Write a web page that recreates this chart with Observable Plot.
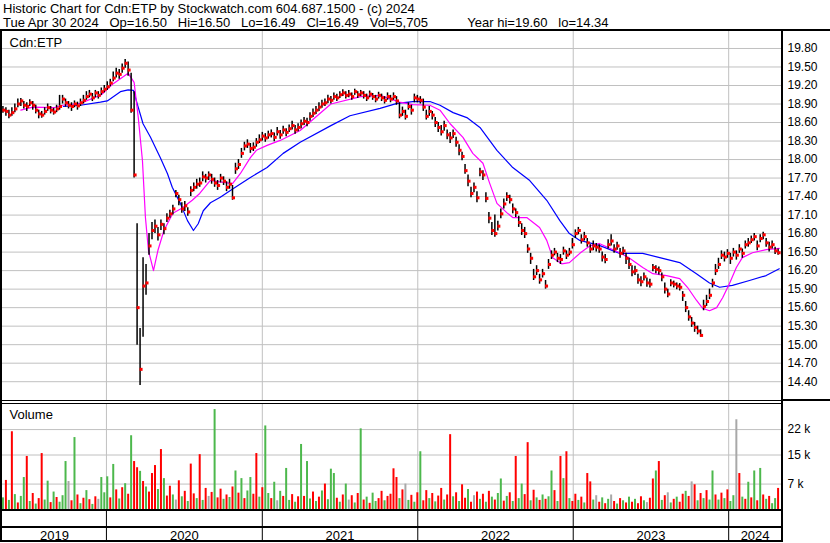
<!DOCTYPE html>
<html><head><meta charset="utf-8">
<script src="https://cdn.jsdelivr.net/npm/d3@7"></script>
<script src="https://cdn.jsdelivr.net/npm/@observablehq/plot@0.6"></script>
<style>
html,body{margin:0;padding:0;background:#fff;}
#wrap{position:relative;width:830px;height:543px;overflow:hidden;font-family:"Liberation Sans",Arial,sans-serif;color:#000;background:#fff;}
.ln{position:absolute;background:#000;}
#hdr{position:absolute;left:3px;top:0;font-size:13px;line-height:14px;padding-top:2px;white-space:pre;}
.slot{position:absolute;left:0;}
.slot svg{display:block;}
</style></head><body><div id="wrap">
<div id="hdr">Historic Chart for Cdn:ETP by Stockwatch.com 604.687.1500 - (c) 2024
Tue Apr 30 2024   Op=16.50   Hi=16.50   Lo=16.49   Cl=16.49   Vol=5,705           Year hi=19.60   lo=14.34</div>
</div>
<script>
// ---------- data (weekly samples) ----------
const firstWeek = "2019-05-03";
const close = [
18.80,18.78,18.72,18.76,18.82,18.90,18.95,18.88,18.86,18.92,
18.88,18.80,18.74,18.72,18.78,18.84,18.80,18.77,18.82,18.86,
18.98,18.92,18.88,18.86,18.90,18.87,18.92,18.96,19.02,19.06,
19.00,19.08,19.04,19.10,19.14,19.18,19.24,19.32,19.40,19.38,
19.48,19.56,19.45,18.80,17.75,15.60,14.60,15.95,16.00,16.60,
16.85,16.92,16.78,16.95,16.88,17.05,17.12,17.20,17.45,17.35,
17.20,17.25,17.15,17.50,17.55,17.60,17.62,17.72,17.70,17.75,
17.68,17.62,17.58,17.70,17.65,17.55,17.60,17.38,17.85,17.92,
18.10,18.22,18.25,18.18,18.20,18.28,18.32,18.38,18.35,18.40,
18.42,18.36,18.45,18.40,18.48,18.44,18.50,18.55,18.48,18.52,
18.58,18.62,18.60,18.70,18.75,18.80,18.85,18.90,18.92,18.98,
18.96,19.02,19.00,19.05,19.08,19.04,19.06,19.02,19.10,19.05,
19.08,19.04,19.00,19.06,19.02,18.98,19.04,19.00,18.96,19.02,
18.98,19.02,18.95,18.72,18.78,18.70,18.86,18.80,19.00,18.98,
18.96,18.85,18.70,18.78,18.72,18.60,18.52,18.45,18.55,18.40,
18.35,18.42,18.28,18.15,18.05,17.82,17.65,17.45,17.55,17.38,
17.80,17.75,17.37,17.05,16.85,16.80,16.92,17.12,17.28,17.40,
17.35,17.20,17.14,16.98,16.85,16.80,16.55,16.40,16.10,16.20,
16.05,16.15,15.95,16.30,16.45,16.50,16.40,16.38,16.52,16.45,
16.50,16.62,16.80,16.85,16.70,16.75,16.65,16.55,16.60,16.58,
16.55,16.42,16.38,16.62,16.68,16.55,16.60,16.48,16.52,16.40,
16.30,16.18,16.20,16.05,16.02,16.10,16.00,15.98,16.25,16.22,
16.20,16.10,15.90,15.82,16.00,15.98,15.95,15.93,15.80,15.60,
15.45,15.35,15.28,15.22,15.15,15.62,15.70,15.80,16.00,16.20,
16.30,16.45,16.42,16.48,16.40,16.50,16.45,16.55,16.48,16.62,
16.65,16.70,16.75,16.60,16.72,16.78,16.65,16.58,16.62,16.52,16.49];
const high = [
18.86,18.84,18.80,18.84,18.90,18.98,18.99,18.94,18.92,18.97,
18.94,18.88,18.80,18.78,18.84,18.90,18.86,18.83,18.88,19.04,
19.04,18.98,18.94,18.92,18.95,18.93,18.98,19.04,19.10,19.12,
19.07,19.12,19.10,19.16,19.20,19.26,19.30,19.42,19.48,19.46,
19.55,19.62,19.58,19.40,19.10,16.96,15.26,16.41,16.30,16.80,
16.98,17.02,16.90,17.02,16.96,17.12,17.18,17.26,17.50,17.42,
17.30,17.32,17.22,17.56,17.62,17.68,17.70,17.80,17.76,17.80,
17.76,17.70,17.66,17.76,17.72,17.64,17.68,17.58,17.94,18.00,
18.18,18.28,18.32,18.26,18.27,18.34,18.40,18.44,18.42,18.46,
18.48,18.43,18.52,18.47,18.54,18.50,18.56,18.62,18.55,18.58,
18.64,18.68,18.67,18.76,18.82,18.86,18.92,18.96,18.98,19.04,
19.02,19.08,19.06,19.10,19.13,19.10,19.12,19.08,19.14,19.10,
19.12,19.10,19.06,19.11,19.07,19.04,19.09,19.06,19.02,19.08,
19.04,19.08,19.02,18.92,18.85,18.80,18.92,18.88,19.06,19.04,
19.02,18.98,18.80,18.86,18.78,18.68,18.60,18.55,18.62,18.48,
18.44,18.48,18.36,18.24,18.12,17.92,17.75,17.55,17.62,17.48,
17.86,17.82,17.46,17.14,16.98,17.10,17.00,17.20,17.36,17.46,
17.42,17.28,17.20,17.08,16.96,16.90,16.62,16.48,16.22,16.28,
16.14,16.22,16.04,16.38,16.52,16.56,16.48,16.46,16.58,16.52,
16.56,16.72,16.86,16.90,16.78,16.82,16.72,16.62,16.68,16.64,
16.62,16.50,16.46,16.70,16.78,16.62,16.66,16.56,16.58,16.48,
16.40,16.28,16.27,16.14,16.10,16.16,16.08,16.06,16.30,16.28,
16.26,16.16,16.00,15.90,16.05,16.03,16.00,15.99,15.86,15.70,
15.55,15.44,15.36,15.30,15.24,15.72,15.80,15.90,16.06,16.30,
16.40,16.52,16.50,16.54,16.48,16.56,16.52,16.62,16.55,16.68,
16.72,16.76,16.80,16.68,16.78,16.82,16.72,16.66,16.68,16.58,16.55];
const low = [
18.75,18.70,18.66,18.70,18.76,18.84,18.86,18.82,18.78,18.86,
18.80,18.74,18.66,18.67,18.72,18.78,18.74,18.72,18.76,18.80,
18.90,18.85,18.82,18.78,18.84,18.80,18.86,18.90,18.96,19.00,
18.94,19.00,18.98,19.04,19.08,19.12,19.18,19.26,19.32,19.30,
19.40,19.48,19.35,18.75,17.70,14.99,14.34,15.12,15.80,16.45,
16.70,16.80,16.68,16.85,16.78,16.98,17.05,17.10,17.38,17.25,
17.13,17.16,17.08,17.40,17.48,17.52,17.55,17.64,17.62,17.66,
17.60,17.55,17.50,17.62,17.58,17.48,17.52,17.34,17.76,17.84,
18.02,18.14,18.18,18.10,18.13,18.20,18.26,18.30,18.28,18.33,
18.35,18.29,18.38,18.33,18.41,18.37,18.44,18.48,18.41,18.45,
18.50,18.55,18.53,18.62,18.68,18.73,18.78,18.83,18.86,18.91,
18.90,18.96,18.94,18.99,19.02,18.98,19.00,18.96,19.04,18.99,
19.02,18.98,18.94,19.00,18.96,18.92,18.98,18.94,18.90,18.96,
18.92,18.96,18.88,18.66,18.70,18.64,18.80,18.72,18.92,18.92,
18.90,18.78,18.64,18.70,18.64,18.52,18.44,18.38,18.46,18.32,
18.26,18.34,18.20,18.06,17.98,17.76,17.56,17.38,17.46,17.30,
17.72,17.66,17.30,16.96,16.77,16.74,16.84,17.04,17.20,17.32,
17.28,17.12,17.06,16.90,16.77,16.72,16.48,16.30,16.04,16.12,
15.98,16.08,15.90,16.22,16.38,16.44,16.33,16.30,16.45,16.38,
16.44,16.55,16.72,16.78,16.63,16.68,16.58,16.48,16.52,16.50,
16.48,16.34,16.31,16.55,16.60,16.48,16.53,16.40,16.45,16.30,
16.22,16.10,16.12,15.98,15.94,16.03,15.93,15.92,16.18,16.15,
16.13,16.02,15.82,15.76,15.94,15.92,15.89,15.87,15.70,15.52,
15.38,15.28,15.20,15.16,15.12,15.55,15.62,15.73,15.92,16.12,
16.22,16.38,16.34,16.40,16.30,16.42,16.37,16.48,16.40,16.55,
16.58,16.64,16.68,16.52,16.65,16.70,16.58,16.50,16.55,16.46,16.45];
// volume in thousands, with day direction: g = up, r = down, n = unchanged
const volume = [
3.2,8.0,2.5,21.4,4.1,1.8,3.6,8.8,14.6,2.2,
4.4,1.5,3.0,15.4,2.6,7.8,1.9,4.8,3.3,2.0,
3.8,13.2,7.7,2.4,19.8,4.0,1.6,3.1,5.2,2.7,
1.4,3.5,2.8,8.8,4.6,9.0,3.2,12.4,5.4,2.9,
6.0,7.1,4.2,20.3,13.2,11.5,10.5,7.7,6.2,4.8,
9.9,12.1,5.5,16.5,8.5,3.7,6.4,4.0,2.6,7.9,
3.5,5.0,2.2,12.5,4.3,3.0,15.1,2.5,5.8,3.6,
4.7,27.5,3.2,5.6,2.8,4.0,3.3,6.2,10.6,4.5,
8.5,3.0,5.1,8.8,4.2,15.4,3.4,6.0,23.0,4.4,
3.0,7.5,2.4,5.0,3.6,11.3,2.5,4.1,2.0,3.5,
17.9,3.6,13.2,2.9,4.8,2.2,3.4,5.1,7.0,2.7,
11.1,9.9,3.1,2.0,4.0,7.0,2.6,3.8,1.8,4.4,
22.2,2.6,3.4,1.7,4.5,2.2,3.0,5.0,2.4,3.6,
4.2,11.2,8.8,3.0,5.4,7.0,2.5,3.9,2.0,4.6,
15.9,2.4,5.2,3.0,4.4,2.1,3.7,5.8,2.6,4.0,
20.6,3.5,4.6,2.2,6.8,3.1,5.5,2.0,3.8,4.8,
2.8,4.2,2.0,5.0,3.4,2.6,4.4,8.4,2.3,3.6,
4.6,2.2,14.6,3.0,7.0,4.1,18.4,2.4,5.3,3.2,
2.5,4.0,2.8,3.5,10.6,5.2,2.2,14.6,8.5,15.9,
3.0,2.2,4.2,2.5,3.4,1.8,9.9,7.6,2.6,3.8,
2.0,3.2,1.6,2.8,4.0,2.2,1.5,3.0,2.4,1.8,
3.4,2.0,2.8,1.6,3.5,2.4,1.9,3.1,8.4,10.6,
13.2,2.5,3.8,4.6,1.8,2.8,3.4,2.0,4.2,5.0,
3.6,7.6,6.8,2.4,4.4,3.0,5.2,2.6,10.6,4.0,
2.6,4.5,3.0,5.4,2.2,3.8,24.7,9.9,3.4,2.8,
7.5,3.2,10.6,2.4,11.3,4.0,2.8,3.6,1.6,3.0,5.8];
const volumeDir = (
"grgrgrggrg"+"rgrrggrgrg"+"ggnrgrgrgr"+"grngggrgrg"+"rgrgrrgrgr"+
"rrgrgrrgnr"+"grgrrgrgrn"+"rgrrgrgrgr"+"grggrrgrgg"+"rgngrggrgr"+
"grggrgrgrg"+"ggrgrgnrgr"+"grgrggrrgr"+"rrrgrngrgr"+"grrgrgrrgr"+
"rgrgrrgrnr"+"grgrgrggrg"+"rgrggrrgrg"+"rgrggrgrgr"+"grrgrgrrgn"+
"rgrgnrgrgr"+"grgrrgnrrg"+"rgrngrgrrg"+"rnrgrgrggr"+"grgrggnrgr"+
"grgrgrgrgg"+"r").split("");
// moving averages: week index and value
const magentaWeek = [6,10,17,20,26,33,37,42,44,45.4,46.8,47.8,48.8,50.5,52,54,57,60,63.5,66,69.5,74,77,79.6,83,85,88.6,93,99.7,110,120,126.5,133,137.5,143.2,146.6,150,154.3,157.6,161,163.3,165.7,169,171,175.7,180,182.4,184.4,187.4,190,193.5,196.8,200,206.9,210.2,214.6,218,222.6,227,229.6,232.6,234.7,237,239.4,241.4,243.7,246,248,251.4,256,260.4];
const magentaVal = [18.80,18.85,18.84,18.88,18.91,19.05,19.23,19.40,19.25,18.68,17.98,17.06,16.53,16.20,16.53,16.85,17.13,17.21,17.34,17.45,17.66,17.63,17.61,17.77,18.03,18.15,18.23,18.31,18.47,18.90,19.02,19.04,18.93,18.89,18.88,18.80,18.58,18.36,18.10,17.94,17.61,17.29,17.14,17.06,17.06,16.90,16.69,16.41,16.31,16.33,16.48,16.60,16.64,16.49,16.40,16.25,16.15,16.12,16.07,15.93,15.72,15.59,15.55,15.60,15.76,15.99,16.25,16.41,16.49,16.54,16.56];
const blueWeek = [20.3,26,32.7,35,39.4,42,43.8,45,47,49.5,52.8,55.2,56.8,59.5,61.9,63.9,65.5,67.2,69.6,72.9,77.3,83,88.6,94,99.7,110,116.4,126.5,132.2,137.5,143.2,146.6,151,155.6,160,165.7,171,176.7,182.4,186.8,190,193.5,200,206.9,214.6,220.3,227,232.6,237,240.4,244.7,250.4,256,260.4];
const blueVal = [18.86,18.88,18.93,18.95,19.10,19.13,19.12,18.91,18.58,18.36,18.03,17.77,17.55,17.29,17.01,16.85,16.96,17.17,17.30,17.39,17.53,17.71,17.87,18.10,18.28,18.55,18.71,18.83,18.91,18.94,18.94,18.88,18.76,18.68,18.52,18.15,17.87,17.66,17.34,17.01,16.80,16.69,16.61,16.48,16.48,16.41,16.33,16.15,16.00,15.93,15.96,16.04,16.12,16.23];
const priceTicks = [14.40,14.70,15.00,15.30,15.60,15.90,16.20,16.50,16.80,17.10,17.40,17.70,18.00,18.30,18.60,18.90,19.20,19.50,19.80];
const volumeTicks = [7,15,22];
const yearStarts = ["2020-01-01","2021-01-01","2022-01-01","2023-01-01","2024-01-01"];
const yearLabels = ["2019","2020","2021","2022","2023","2024"];
const xDomainDates = ["2019-05-02","2024-05-04"];
const symbolLabel = "Cdn:ETP";
const volumeLabel = "Volume";

// ---------- build ----------
const DAY = 864e5;
const t0 = +new Date(firstWeek);
const wk = i => new Date(t0 + i * 7 * DAY);
const bars = close.map((c, i) => ({date: wk(i), close: c, hi: high[i], lo: low[i]}));
const colorOf = {g: "#4cb84c", r: "#ff0000", n: "#a8a8a8"};
const vols = volume.map((v, i) => ({date: wk(i), v, c: colorOf[volumeDir[i]] || "#4cb84c"}));
const mag = magentaWeek.map((w, i) => ({date: wk(w), v: magentaVal[i]}));
const blu = blueWeek.map((w, i) => ({date: wk(w), v: blueVal[i]}));
const xDomain = xDomainDates.map(d => new Date(d));
const yearLines = yearStarts.map(d => new Date(d));
const yearMid = yearLabels.map(y => {
  const a = Math.max(+new Date(`${y}-01-01`), +xDomain[0]);
  const b = Math.min(+new Date(`${+y + 1}-01-01`), +xDomain[1]);
  return {label: y, date: new Date((a + b) / 2)};
});
const FONT = '"Liberation Sans", Arial, sans-serif';
const baseStyle = {fontFamily: FONT, fontSize: "12px", color: "#000", background: "transparent", overflow: "visible"};
const W = 830, ML = 2, MR = 49;
const grid = "#c0c0c0";

const pricePlot = Plot.plot({
  width: W, height: 370, marginLeft: ML, marginRight: MR, marginTop: 0, marginBottom: 0,
  x: {type: "utc", domain: xDomain, axis: null},
  y: {domain: [14.079, 20.075], axis: null, label: null},
  style: baseStyle,
  marks: [
    Plot.ruleY(priceTicks, {stroke: grid, strokeWidth: 1}),
    Plot.ruleX(yearLines, {stroke: grid, strokeWidth: 1}),
    Plot.axisY(priceTicks, {anchor: "right", label: null, tickSize: 0, tickPadding: 6, tickFormat: d => d.toFixed(2), fill: "#000", fontSize: 12}),
    Plot.line(blu, {x: "date", y: "v", stroke: "#0000ff", strokeWidth: 1.2}),
    Plot.line(mag, {x: "date", y: "v", stroke: "#ff00ff", strokeWidth: 1.2}),
    Plot.ruleX(bars, {x: "date", y1: "lo", y2: "hi", stroke: "#000", strokeWidth: 1.5}),
    Plot.dot(bars, {x: "date", y: "close", symbol: "square", r: 1.7, fill: "#ff0000", stroke: null, dx: 1}),
    Plot.text([symbolLabel], {frameAnchor: "top-left", textAnchor: "start", lineAnchor: "top", dx: 7, dy: 6, fontSize: 13, fill: "#000"})
  ]
});

const volPlot = Plot.plot({
  width: W, height: 105, marginLeft: ML, marginRight: MR, marginTop: 0, marginBottom: 0,
  x: {type: "utc", domain: xDomain, axis: null},
  y: {domain: [0, 28.9], axis: null, label: null},
  color: {type: "identity"},
  style: baseStyle,
  marks: [
    Plot.ruleY(volumeTicks, {stroke: grid, strokeWidth: 1}),
    Plot.ruleX(yearLines, {stroke: grid, strokeWidth: 1}),
    Plot.axisY(volumeTicks, {anchor: "right", label: null, tickSize: 0, tickPadding: 6, tickFormat: d => d + " k", fill: "#000", fontSize: 12}),
    Plot.ruleX(vols, {x: "date", y1: 0, y2: "v", stroke: "c", strokeWidth: 2}),
    Plot.text([volumeLabel], {frameAnchor: "top-left", textAnchor: "start", lineAnchor: "top", dx: 7, dy: 5, fontSize: 13, fill: "#000"})
  ]
});

const yearPlot = Plot.plot({
  width: W, height: 29, marginLeft: ML, marginRight: MR, marginTop: 0, marginBottom: 0,
  x: {type: "utc", domain: xDomain, axis: null},
  style: baseStyle,
  marks: [
    Plot.ruleX(yearLines, {stroke: "#000", strokeWidth: 1}),
    Plot.text(yearMid, {x: "date", text: "label", frameAnchor: "bottom", lineAnchor: "middle", dy: -5, fontSize: 13, fill: "#000"})
  ]
});

const wrap = document.getElementById("wrap");
function place(el, top) {
  const d = document.createElement("div");
  d.className = "slot"; d.style.top = top + "px";
  d.appendChild(el); wrap.appendChild(d);
}
place(pricePlot, 31);
place(volPlot, 404);
place(yearPlot, 511);
function line(l, t, w, h) {
  const d = document.createElement("div");
  d.className = "ln";
  d.style.cssText = `left:${l}px;top:${t}px;width:${w}px;height:${h}px;`;
  wrap.appendChild(d);
}
line(0, 29, 830, 2);      // under header
line(0, 29, 2, 513);      // left frame
line(781, 29, 2, 513);    // right frame of plot area
line(0, 400, 781, 1);     // price/volume double line
line(0, 403, 781, 1);
line(783, 399, 47, 2);
line(0, 509, 781, 2);     // below volume
line(0, 526, 781, 2);     // above year labels
line(0, 540, 783, 2);     // bottom
</script>
</body></html>
